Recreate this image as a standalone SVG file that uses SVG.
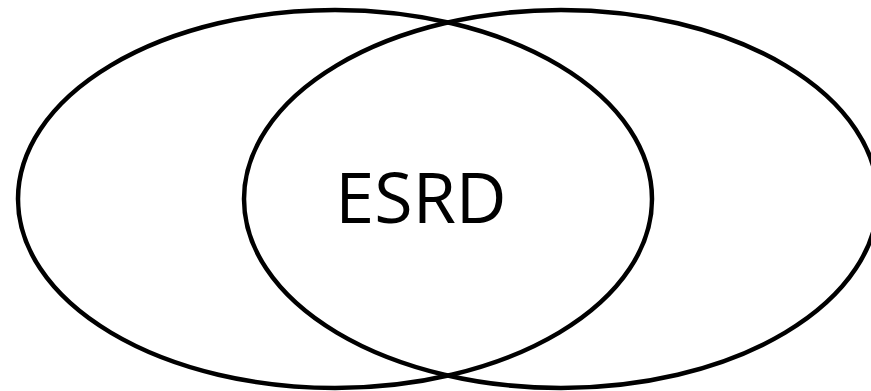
<svg xmlns="http://www.w3.org/2000/svg" width="871" height="391" viewBox="0 0 871 391">
<style>
.set{fill:none;stroke:#000;stroke-width:4.5}
.lbl{font-family:"Open Sans","Liberation Sans",sans-serif;font-size:70px;fill:#000}
</style>
<rect width="871" height="391" fill="#fff"/>
<g id="set-left"><ellipse class="set" cx="335" cy="199" rx="317" ry="189"/></g>
<g id="set-right"><ellipse class="set" cx="561" cy="199" rx="317" ry="189"/></g>
<g id="label"><text class="lbl" x="421" y="223" text-anchor="middle">ESRD</text></g>
<g id="connectors"/>
</svg>
